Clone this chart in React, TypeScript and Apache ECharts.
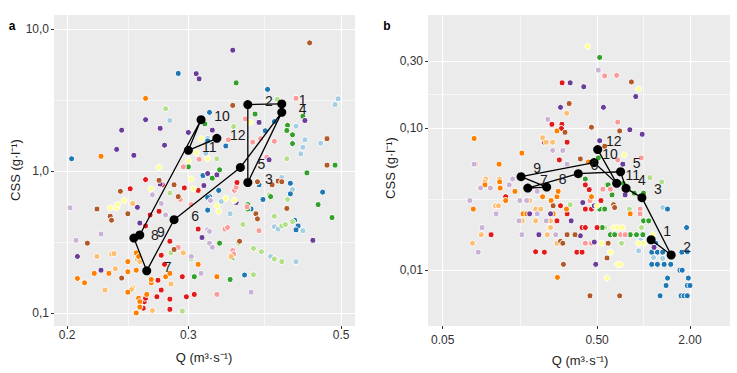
import { useEffect, useRef } from "react";
import * as echarts from "echarts";

const FONT = "'Liberation Sans', Arial, Helvetica, sans-serif";
const MONTH_COLORS = [
  "#A6CEE3", "#1F78B4", "#B2DF8A", "#33A02C", "#FB9A99", "#E31A1C",
  "#FDBF6F", "#FF7F00", "#CAB2D6", "#6A3D9A", "#FFFF99", "#B15928",
];

// ---------- Panel a : [Q, CSS] by month ----------
const aJan = [[0.282,2.27],[0.318,1.33],[0.495,3.23],[0.49,2.94],[0.43,2.07],[0.443,1.66],[0.44,1.47],[0.467,1.57],[0.437,1.32],[0.335,0.61],[0.345,0.5],[0.425,0.74],[0.40,0.405],[0.405,0.39],[0.44,0.38],[0.395,0.25],[0.43,0.23],[0.41,0.9],[0.32,1.7]];
const aFeb = [[0.203,1.22],[0.29,4.87],[0.391,3.76],[0.322,2.59],[0.40,2.23],[0.34,1.5],[0.388,1.92],[0.32,1.63],[0.315,0.93],[0.332,0.73],[0.322,0.66],[0.32,0.53],[0.37,0.54],[0.38,0.8],[0.385,0.63],[0.422,0.82],[0.422,0.69],[0.47,0.71],[0.428,0.45],[0.433,0.41],[0.43,0.385],[0.362,0.185],[0.32,0.65]];
const aMar = [[0.278,2.75],[0.404,3.2],[0.349,2.06],[0.417,1.22],[0.33,1.22],[0.36,0.42],[0.355,0.31],[0.373,0.285],[0.383,0.27],[0.4,0.24],[0.41,0.23],[0.373,0.186],[0.393,0.68],[0.418,0.63],[0.40,0.48],[0.41,0.41],[0.415,0.42],[0.425,0.44],[0.283,0.265],[0.303,0.24],[0.294,0.103],[0.282,0.7]];
const aApr = [[0.352,4.18],[0.375,2.52],[0.317,2.15],[0.44,2.43],[0.418,2.1],[0.417,1.93],[0.425,1.8],[0.425,1.56],[0.49,1.1],[0.446,0.97],[0.333,1.02],[0.30,1.07],[0.325,0.89],[0.366,0.58],[0.366,0.54],[0.333,0.31],[0.347,0.245],[0.345,0.172],[0.395,0.66],[0.463,0.58],[0.485,0.47],[0.306,0.18]];
const aMay = [[0.43,3.25],[0.363,2.33],[0.343,1.66],[0.372,1.6],[0.382,1.69],[0.40,1.62],[0.39,1.25],[0.311,1.21],[0.295,1.07],[0.35,0.73],[0.352,0.77],[0.365,0.56],[0.339,0.39],[0.342,0.4],[0.38,0.38],[0.348,0.275],[0.349,0.26],[0.33,0.135],[0.29,0.29],[0.292,0.63],[0.303,0.58]];
const aJun = [[0.353,0.83],[0.26,0.87],[0.247,0.75],[0.275,0.8],[0.296,0.76],[0.31,0.73],[0.264,0.49],[0.26,0.41],[0.282,0.32],[0.274,0.255],[0.277,0.22],[0.31,0.39],[0.271,0.17],[0.274,0.145],[0.282,0.125],[0.282,0.106],[0.27,0.13],[0.259,0.12],[0.258,0.108],[0.26,0.127],[0.298,0.13],[0.306,0.135],[0.294,0.18],[0.272,0.52]];
const aJul = [[0.249,0.59],[0.232,0.26],[0.234,0.262],[0.221,0.25],[0.253,0.237],[0.255,0.23],[0.235,0.205],[0.227,0.145],[0.249,0.15],[0.248,0.146],[0.283,0.16],[0.295,0.265],[0.346,0.25],[0.266,0.104]];
const aAug = [[0.224,1.27],[0.26,3.25],[0.245,0.23],[0.252,0.265],[0.254,0.25],[0.245,0.195],[0.252,0.2],[0.219,0.19],[0.23,0.19],[0.207,0.175],[0.212,0.163],[0.245,0.14],[0.254,0.127],[0.255,0.12],[0.255,0.11],[0.265,0.163],[0.265,0.172],[0.278,0.18],[0.282,0.19],[0.31,0.22],[0.33,0.18],[0.252,0.1],[0.261,0.135]];
const aSep = [[0.202,0.55],[0.206,0.325],[0.224,0.36],[0.274,0.59],[0.266,0.68],[0.278,0.49],[0.323,0.62],[0.32,0.385],[0.322,0.375],[0.322,0.31],[0.325,0.29],[0.303,0.25],[0.313,0.19],[0.37,0.14]];
const aOct = [[0.348,7.1],[0.308,4.85],[0.311,4.46],[0.26,2.3],[0.273,2.0],[0.24,1.94],[0.236,1.42],[0.25,1.29],[0.277,1.52],[0.30,1.87],[0.38,2.2],[0.443,2.27],[0.325,1.94],[0.393,1.2],[0.273,0.81],[0.32,0.96],[0.33,0.94],[0.316,0.79],[0.253,0.555],[0.255,0.43],[0.207,0.25],[0.224,0.2],[0.455,0.325],[0.314,0.34],[0.352,0.6]];
const aNov = [[0.272,1.06],[0.313,1.69],[0.308,1.35],[0.30,1.18],[0.369,2.2],[0.32,1.22],[0.231,0.55],[0.236,0.55],[0.237,0.58],[0.242,0.62],[0.265,0.75],[0.303,0.88],[0.305,0.75],[0.33,0.57],[0.34,0.64],[0.35,0.62],[0.332,0.52]];
const aDec = [[0.45,8.0],[0.348,2.9],[0.477,1.69],[0.477,1.1],[0.221,0.54],[0.231,0.48],[0.232,0.45],[0.239,0.72],[0.245,0.5],[0.214,0.31],[0.24,0.176],[0.272,0.86],[0.286,0.8],[0.29,0.66],[0.376,0.5],[0.378,0.46],[0.356,0.32],[0.417,0.545],[0.405,0.85],[0.41,0.84],[0.397,0.8],[0.378,0.84],[0.286,0.28]];

const aPathLabels = ["1","2","3","4","5","6","7","8","9","10","11","12"];
const aPathQ = [0.41, 0.366, 0.366, 0.41, 0.357, 0.286, 0.261, 0.25, 0.255, 0.313, 0.30, 0.33];
const aPathCSS = [2.97, 2.94, 0.83, 2.59, 1.06, 0.454, 0.198, 0.337, 0.354, 2.3, 1.40, 1.70];

const aXRange = [0.1914, 0.5238];
const aYRange = [0.0809, 12.57];
const aXTicks = [0.2, 0.3, 0.5];
const aXTickLabels = ["0.2", "0.3", "0.5"];
const aXMinor = [0.245, 0.387];
const aYTicks = [0.1, 1, 10];
const aYTickLabels = ["0,1", "1,0", "10,0"];
const aYMinor = [0.316, 3.16];

// ---------- Panel b : [Q, CSS] by month ----------
const bJan = [[1.33,0.0277],[0.93,0.0137],[0.96,0.0163],[1.0,0.0175],[1.16,0.0123],[1.33,0.0121]];
const bFeb = [[1.43,0.027],[1.9,0.02],[1.13,0.0134],[1.23,0.0134],[1.33,0.0134],[1.77,0.0134],[1.13,0.011],[1.23,0.011],[1.36,0.011],[1.5,0.011],[1.72,0.01],[1.78,0.01],[1.43,0.0088],[1.95,0.0088],[1.4,0.0078],[1.92,0.0078],[2.0,0.0078],[1.28,0.0066],[1.75,0.0066],[1.83,0.0066],[1.92,0.0066],[1.92,0.0135],[1.2,0.0155]];
const bMar = [[1.31,0.042],[0.81,0.027],[0.97,0.02],[0.56,0.02],[0.72,0.0155],[0.335,0.029],[1.1,0.045]];
const bApr = [[0.52,0.317],[0.51,0.062],[0.42,0.044],[0.58,0.04],[0.625,0.034],[0.52,0.027],[0.56,0.027],[0.87,0.035],[1.0,0.035],[1.0,0.0223],[1.08,0.0223],[0.61,0.0178],[0.65,0.0178],[0.82,0.0178],[0.9,0.0178],[0.99,0.0178],[0.54,0.02],[0.59,0.04],[0.74,0.041]];
const bMay = [[0.56,0.235],[0.67,0.237],[0.68,0.111],[0.68,0.06],[0.965,0.062],[0.545,0.0373],[0.61,0.0373],[0.45,0.031],[0.95,0.027],[0.95,0.025],[0.71,0.0178],[0.76,0.0178],[0.42,0.0155],[0.46,0.0155]];
const bJun = [[0.297,0.21],[0.255,0.107],[0.296,0.107],[0.294,0.1],[0.228,0.08],[0.32,0.08],[0.285,0.06],[0.128,0.033],[0.29,0.0285],[0.32,0.025],[0.275,0.0223],[0.103,0.0178],[0.228,0.0134],[0.37,0.0134],[0.40,0.0134],[0.42,0.04],[0.445,0.037],[0.53,0.031],[0.42,0.027],[0.46,0.027],[0.4,0.02],[0.42,0.02],[0.5,0.02],[0.2,0.0135]];
const bJul = [[0.318,0.128],[0.222,0.086],[0.234,0.08],[0.258,0.08],[0.082,0.056],[0.095,0.044],[0.094,0.042],[0.117,0.044],[0.11,0.0285],[0.115,0.0285],[0.183,0.031],[0.2,0.027],[0.216,0.027],[0.164,0.0223],[0.2,0.0223],[0.25,0.0223],[0.245,0.02],[0.25,0.02],[0.089,0.0178],[0.238,0.0178],[0.078,0.0155],[0.275,0.0155],[0.087,0.038]];
const bAug = [[0.275,0.096],[0.08,0.085],[0.163,0.067],[0.116,0.056],[0.44,0.058],[0.094,0.04],[0.117,0.042],[0.118,0.038],[0.147,0.036],[0.128,0.031],[0.079,0.027],[0.222,0.033],[0.252,0.031],[0.275,0.033],[0.28,0.036],[0.317,0.027],[0.166,0.025],[0.175,0.025],[0.26,0.025],[0.277,0.0089],[0.46,0.033],[0.82,0.025]];
const bSep = [[0.51,0.258],[0.24,0.116],[0.258,0.07],[0.30,0.07],[0.08,0.056],[0.32,0.056],[0.088,0.038],[0.102,0.038],[0.135,0.04],[0.142,0.044],[0.075,0.031],[0.111,0.025],[0.158,0.031],[0.175,0.031],[0.205,0.036],[0.205,0.025],[0.156,0.0223],[0.234,0.0223],[0.09,0.02],[0.163,0.0178],[0.27,0.0178],[0.085,0.0134]];
const bOct = [[0.335,0.21],[0.41,0.197],[0.29,0.141],[0.55,0.141],[0.89,0.168],[0.815,0.098],[0.98,0.091],[0.52,0.082],[0.734,0.056],[0.76,0.034],[0.404,0.03],[0.48,0.0285],[0.183,0.025],[0.25,0.025],[0.34,0.0223],[0.21,0.0178],[0.39,0.0175],[0.48,0.0158],[0.49,0.011],[1.17,0.0145]];
const bNov = [[0.435,0.38],[0.93,0.19],[0.75,0.065],[0.50,0.0285],[0.64,0.02],[0.68,0.02],[0.73,0.02],[1.15,0.0178],[0.535,0.0155],[0.93,0.0155],[1.0,0.0155],[0.68,0.011],[0.71,0.011],[0.61,0.0134],[0.58,0.0088]];
const bDec = [[0.835,0.213],[0.33,0.15],[0.46,0.102],[0.70,0.096],[0.31,0.094],[0.39,0.061],[0.56,0.075],[0.26,0.0285],[0.32,0.0178],[0.36,0.0178],[0.29,0.016],[0.30,0.0155],[0.303,0.011],[0.64,0.029],[0.65,0.0277],[0.59,0.0155],[0.58,0.0122],[0.45,0.0066],[0.70,0.0066]];

const bPathLabels = ["1","2","3","4","5","6","7","8","9","10","11","12"];
const bPathQ = [1.12, 1.51, 0.976, 0.77, 0.71, 0.378, 0.178, 0.236, 0.161, 0.478, 0.67, 0.505];
const bPathCSS = [0.0164, 0.0128, 0.0325, 0.0378, 0.0495, 0.048, 0.038, 0.0386, 0.0457, 0.0575, 0.041, 0.071];

const bXRange = [0.0402, 3.63];
const bYRange = [0.00404, 0.632];
const bXTicks = [0.05, 0.5, 2];
const bXTickLabels = ["0.05", "0.50", "2.00"];
const bXMinor = [0.158, 1.0];
const bYTicks = [0.01, 0.1, 0.3];
const bYTickLabels = ["0,01", "0,10", "0,30"];
const bYMinor = [0.0316, 0.173];

const Y_TITLE = "CSS (g·l⁻¹)";
const X_TITLE = "Q (m³·s⁻¹)";

const labelFor = (ticks: number[], labels: string[]) => (v: number) => {
  for (let i = 0; i < ticks.length; i++) {
    if (Math.abs(v - ticks[i]) / ticks[i] < 1e-6) return labels[i];
  }
  return "";
};

function majorAxis(gridIndex: number, range: number[], ticks: number[], labels: string[], margin: number) {
  return {
    type: "log",
    logBase: 10,
    gridIndex,
    min: range[0],
    max: range[1],
    axisLine: { show: false },
    axisTick: { show: true, length: 3, customValues: ticks, lineStyle: { color: "#333", width: 1 } },
    axisLabel: {
      show: true,
      customValues: ticks,
      formatter: labelFor(ticks, labels),
      color: "#333",
      fontSize: 12,
      fontFamily: FONT,
      margin,
    },
    splitLine: { show: true, lineStyle: { color: "#ffffff", width: 1.2 } },
    minorTick: { show: false },
    minorSplitLine: { show: false },
  };
}

function minorAxis(gridIndex: number, range: number[], ticks: number[]) {
  return {
    type: "log",
    logBase: 10,
    gridIndex,
    min: range[0],
    max: range[1],
    axisLine: { show: false },
    axisTick: { show: false, customValues: ticks },
    axisLabel: { show: false },
    splitLine: { show: true, lineStyle: { color: "#ffffff", width: 0.6 } },
  };
}

function scatterSeries(months: number[][][], xi: number, yi: number) {
  return months.map((pts, m) => ({
    type: "scatter",
    xAxisIndex: xi,
    yAxisIndex: yi,
    data: pts,
    symbol: "circle",
    symbolSize: 6,
    itemStyle: { color: MONTH_COLORS[m], borderColor: "#ffffff", borderWidth: 1, opacity: 1 },
    silent: true,
    z: 2,
  }));
}

function pathSeries(q: number[], css: number[], labels: string[], xi: number, yi: number, offset: number[]) {
  return {
    type: "line",
    xAxisIndex: xi,
    yAxisIndex: yi,
    data: q.map((v, i) => [v, css[i]]),
    symbol: "circle",
    symbolSize: 9,
    showAllSymbol: true,
    lineStyle: { color: "#000", width: 1.3 },
    itemStyle: { color: "#000" },
    label: {
      show: true,
      position: "inside",
      offset,
      formatter: (p: any) => labels[p.dataIndex],
      fontSize: 14,
      color: "#1a1a1a",
      fontFamily: FONT,
    },
    silent: true,
    z: 3,
  };
}

export default function App() {
  const ref = useRef<HTMLDivElement>(null);
  useEffect(() => {
    if (!ref.current) return;
    const chart = echarts.init(ref.current, undefined, { renderer: "svg" });
    const aMonths = [aJan, aFeb, aMar, aApr, aMay, aJun, aJul, aAug, aSep, aOct, aNov, aDec];
    const bMonths = [bJan, bFeb, bMar, bApr, bMay, bJun, bJul, bAug, bSep, bOct, bNov, bDec];
    const titleStyle = { fontSize: 13, fontFamily: FONT, fill: "#222", align: "center", verticalAlign: "middle" };
    chart.setOption({
      animation: false,
      backgroundColor: "#ffffff",
      grid: [
        { left: 54, top: 15, width: 301, height: 311, show: true, backgroundColor: "#EBEBEB", borderWidth: 0 },
        { left: 428, top: 15, width: 302, height: 311, show: true, backgroundColor: "#EBEBEB", borderWidth: 0 },
      ],
      xAxis: [
        majorAxis(0, aXRange, aXTicks, aXTickLabels, 3),
        minorAxis(0, aXRange, aXMinor),
        majorAxis(1, bXRange, bXTicks, bXTickLabels, 7.5),
        minorAxis(1, bXRange, bXMinor),
      ],
      yAxis: [
        majorAxis(0, aYRange, aYTicks, aYTickLabels, 5),
        minorAxis(0, aYRange, aYMinor),
        majorAxis(1, bYRange, bYTicks, bYTickLabels, 5),
        minorAxis(1, bYRange, bYMinor),
      ],
      series: [
        ...scatterSeries(aMonths, 0, 0),
        pathSeries(aPathQ, aPathCSS, aPathLabels, 0, 0, [21, -3.5]),
        ...scatterSeries(bMonths, 2, 2),
        pathSeries(bPathQ, bPathCSS, bPathLabels, 2, 2, [16, -8.5]),
      ],
      graphic: [
        { type: "text", x: 12, y: 26, style: { text: "a", fontSize: 12, fontWeight: "bold", fontFamily: FONT, fill: "#000", align: "center", verticalAlign: "middle" } },
        { type: "text", x: 387, y: 26, style: { text: "b", fontSize: 12, fontWeight: "bold", fontFamily: FONT, fill: "#000", align: "center", verticalAlign: "middle" } },
        { type: "text", x: 204, y: 357, style: { text: X_TITLE, ...titleStyle } },
        { type: "text", x: 580, y: 360, style: { text: X_TITLE, ...titleStyle } },
        { type: "text", x: 15, y: 170, rotation: Math.PI / 2, style: { text: Y_TITLE, ...titleStyle } },
        { type: "text", x: 390, y: 168, rotation: Math.PI / 2, style: { text: Y_TITLE, ...titleStyle } },
      ],
    });
    return () => chart.dispose();
  }, []);
  return (
    <div
      ref={ref}
      style={{ position: "fixed", left: 0, top: 0, width: 737, height: 373, background: "#fff" }}
    />
  );
}
